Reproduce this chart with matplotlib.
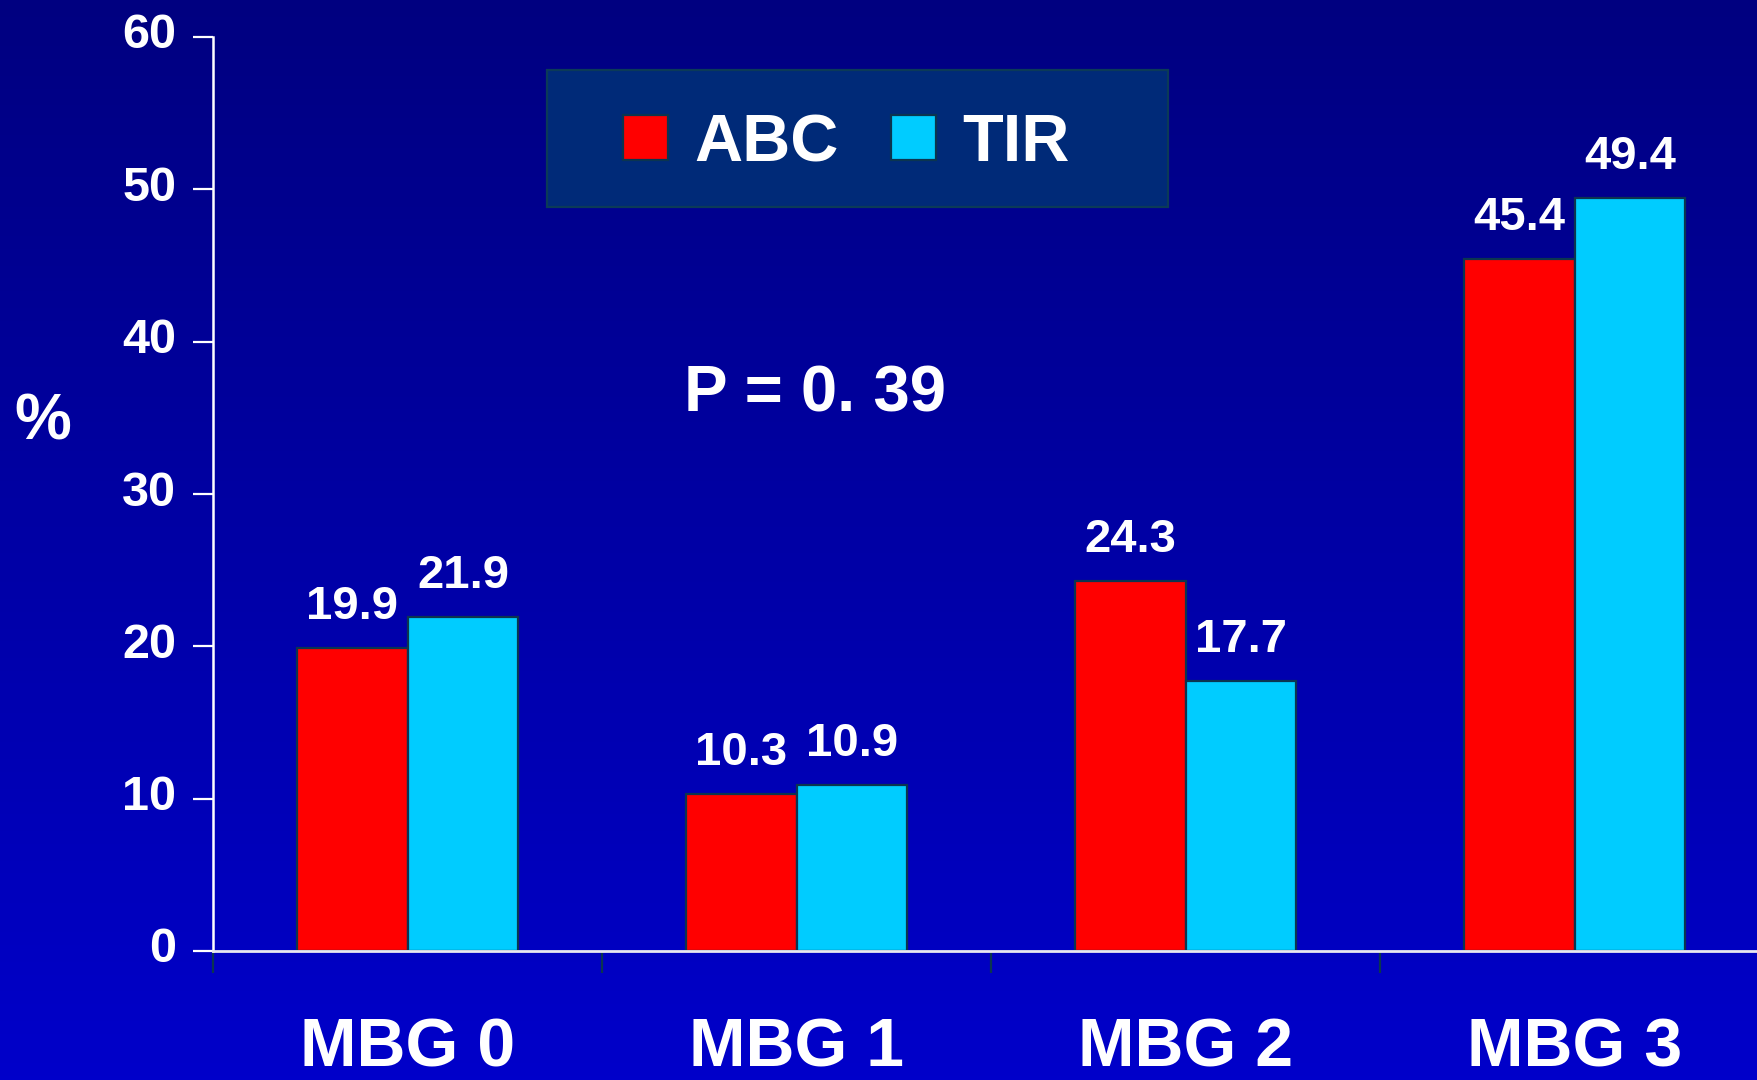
import numpy as np
import matplotlib
matplotlib.use("Agg")
import matplotlib.pyplot as plt
from matplotlib.patches import Rectangle, Patch
from matplotlib.transforms import ScaledTranslation

plt.rcParams["font.family"] = ["Liberation Sans", "DejaVu Sans"]
plt.rcParams["font.weight"] = "bold"

# Data
categories = ["MBG 0", "MBG 1", "MBG 2", "MBG 3"]
abc_values = [19.9, 10.3, 24.3, 45.4]
tir_values = [21.9, 10.9, 17.7, 49.4]
series_names = ["ABC", "TIR"]
y_ticks = [0, 10, 20, 30, 40, 50, 60]
p_text = "P = 0. 39"

ABC_COLOR = "#FF0000"
TIR_COLOR = "#00CCFF"
EDGE = "#0B3550"
W, H = 1757, 1080

fig = plt.figure(figsize=(W / 100, H / 100), dpi=100)

# Vertical blue gradient background
bg = fig.add_axes([0, 0, 1, 1], zorder=-10)
grad = np.linspace(0, 1, 256).reshape(-1, 1)
top = np.array([0, 0, 128]) / 255
bot = np.array([0, 0, 202]) / 255
img = top[None, None, :] * (1 - grad[..., None]) + bot[None, None, :] * grad[..., None]
bg.imshow(img, aspect="auto", extent=[0, 1, 0, 1], origin="upper")
bg.set_axis_off()

# Main axes
left = 213 / W
bottom = (H - 951) / H
height = (951 - 37) / H
ax = fig.add_axes([left, bottom, 1 - left, height])
ax.set_facecolor("none")

x = np.arange(len(categories))
bw = 0.285
bars_abc = ax.bar(x - bw / 2, abc_values, bw, color=ABC_COLOR,
                  edgecolor=EDGE, linewidth=1.6, label=series_names[0], zorder=3)
bars_tir = ax.bar(x + bw / 2, tir_values, bw, color=TIR_COLOR,
                  edgecolor=EDGE, linewidth=1.6, label=series_names[1], zorder=3)

for bars, vals in ((bars_abc, abc_values), (bars_tir, tir_values)):
    for b, v in zip(bars, vals):
        ax.annotate(f"{v:.1f}", xy=(b.get_x() + b.get_width() / 2, v),
                    xytext=(0, 21), textcoords="offset points",
                    ha="center", va="baseline", color="white",
                    fontsize=34, fontweight="bold", zorder=4)

ax.set_xlim(-0.5, 3.469)
ax.set_ylim(0, 60)

# Spines
for s in ("top", "right"):
    ax.spines[s].set_visible(False)
ax.spines["left"].set_color("white")
ax.spines["left"].set_linewidth(1.8)
ax.spines["bottom"].set_color("#E8E8F0")
ax.spines["bottom"].set_linewidth(2.0)
ax.spines["bottom"].set_zorder(5)

# Y ticks
ax.set_yticks(y_ticks)
ax.set_yticklabels([str(t) for t in y_ticks])
ax.tick_params(axis="y", direction="out", length=14.4, width=1.6, color="white",
               labelcolor="white", labelsize=35, pad=12)

# X: labels at category centres, tick marks at group boundaries
ax.set_xticks(x)
ax.set_xticklabels(categories)
ax.set_xticks(np.arange(-0.5, len(categories) - 0.5, 1.0), minor=True)
ax.tick_params(axis="x", which="major", length=0, labelcolor="white",
               labelsize=49, pad=47)
ax.tick_params(axis="x", which="minor", direction="out", length=16, width=1.6,
               color=EDGE)
for lab in ax.get_xticklabels() + ax.get_yticklabels():
    lab.set_fontweight("bold")
lift = ScaledTranslation(0, 0.06, fig.dpi_scale_trans)
for lab in ax.get_yticklabels():
    lab.set_transform(lab.get_transform() + lift)

# Legend panel
fig.patches.append(Rectangle((547 / W, 1 - 207 / H), (1168 - 547) / W, (207 - 70) / H,
                             transform=fig.transFigure, facecolor="#002A78",
                             edgecolor="#0B3A58", linewidth=1.6, zorder=1))
handles = [Patch(facecolor=ABC_COLOR, edgecolor=EDGE, linewidth=1.6),
           Patch(facecolor=TIR_COLOR, edgecolor=EDGE, linewidth=1.6)]
leg = fig.legend(handles, series_names, loc="center left",
                 bbox_to_anchor=(623 / W, 1 - 144 / H), frameon=False,
                 ncol=2, handlelength=0.675, handleheight=0.645,
                 handletextpad=0.4, columnspacing=0.78, borderpad=0,
                 borderaxespad=0, prop={"weight": "bold", "size": 48})
for t in leg.get_texts():
    t.set_color("white")
leg.set_zorder(2)

# Annotations
fig.text(684 / W, 1 - 412 / H, p_text, ha="left", va="baseline", color="white",
         fontsize=47, fontweight="bold")
fig.text(14 / W, 1 - 440 / H, "%", ha="left", va="baseline", color="white",
         fontsize=46, fontweight="bold")

fig.savefig("out.png", dpi=100)
